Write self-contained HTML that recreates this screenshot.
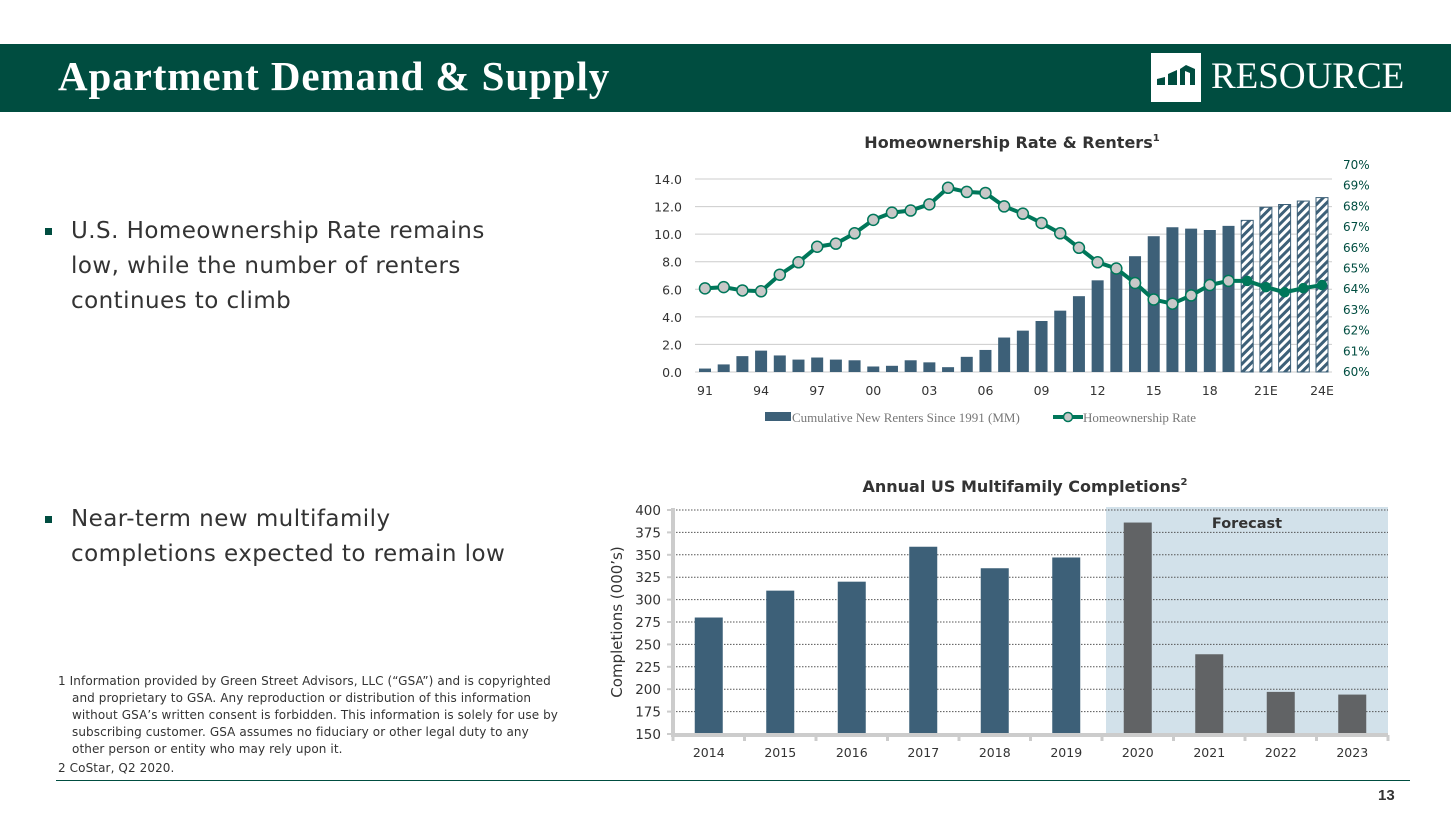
<!DOCTYPE html>
<html><head><meta charset="utf-8"><style>
body{margin:0;width:1451px;height:816px;background:#fff;position:relative;overflow:hidden;font-family:"DejaVu Sans","Liberation Sans",sans-serif}
.hdr{position:absolute;left:0;top:44px;width:1451px;height:68px;background:#004d40}
.title{position:absolute;left:58px;top:52px;font-family:"Liberation Serif",serif;font-weight:bold;font-size:41px;letter-spacing:0.9px;color:#fff}
.bul{position:absolute;left:45px;font-size:23px;letter-spacing:0.45px;color:#333;line-height:35px}
.bul span.sq{position:absolute;left:0;top:14px;width:7px;height:7px;background:#004d40}
.bul div{margin-left:26px}
.fn{position:absolute;left:58px;font-size:12px;letter-spacing:0.1px;color:#333;line-height:17px}
</style></head><body>
<div class="hdr"></div>
<div class="title">Apartment Demand &amp; Supply</div>
<div style="position:absolute;left:1151px;top:53px;width:50px;height:49px;background:#fff">
<svg width="50" height="49"><path d="M6 32 L6 26 L14 24 L14 32 Z M17 32 L17 21 L26 17 L26 32 Z M29 32 L29 16 L35 12 L44 16 L44 32 L39 32 L39 20 L34 18 L34 32 Z" fill="#004d40"/></svg></div>
<div style="position:absolute;left:1211px;top:55px;font-family:'Liberation Serif',serif;font-size:37px;color:#fff">RESOURCE</div>
<div class="bul" style="top:214px"><span class="sq"></span><div>U.S. Homeownership Rate remains<br>low, while the number of renters<br>continues to climb</div></div>
<div class="bul" style="top:502px"><span class="sq"></span><div>Near-term new multifamily<br>completions expected to remain low</div></div>
<div class="fn" style="top:673px;width:500px"><div style="padding-left:14px;text-indent:-14px">1 Information provided by Green Street Advisors, LLC (“GSA”) and is copyrighted and proprietary to GSA. Any reproduction or distribution of this information without GSA’s written consent is forbidden. This information is solely for use by subscribing customer. GSA assumes no fiduciary or other legal duty to any other person or entity who may rely upon it.</div><div style="margin-top:2px">2 CoStar, Q2 2020.</div></div>
<div style="position:absolute;left:56px;top:780px;width:1354px;height:1px;background:#004d40"></div>
<div style="position:absolute;left:1378px;top:787px;font-family:'Liberation Sans',sans-serif;font-weight:bold;font-size:15px;color:#333">13</div>
<svg id="c" width="1451" height="816" style="position:absolute;left:0;top:0">
<defs><pattern id="hatch" width="6" height="6" patternUnits="userSpaceOnUse" patternTransform="rotate(45)"><rect width="6" height="6" fill="#fff"/><rect width="3" height="6" fill="#3d6078"/></pattern></defs>
</svg>
<script>
const cats1=['91','92','93','94','95','96','97','98','99','00','01','02','03','04','05','06','07','08','09','10','11','12','13','14','15','16','17','18','19','20','21E','22E','23E','24E'];
const renters=[0.25,0.55,1.15,1.55,1.2,0.9,1.05,0.9,0.85,0.4,0.45,0.85,0.7,0.35,1.1,1.6,2.5,3.0,3.7,4.45,5.5,6.65,7.3,8.4,9.85,10.5,10.4,10.3,10.6,11.0,11.95,12.15,12.4,12.65];
const rate=[64.04,64.1,63.94,63.9,64.7,65.3,66.05,66.2,66.7,67.35,67.7,67.8,68.1,68.9,68.7,68.65,68.0,67.65,67.2,66.7,66.0,65.3,65.0,64.3,63.5,63.3,63.7,64.2,64.4,64.4,64.1,63.85,64.05,64.2];
const forecastStart=29;
const xLabels1=['91','94','97','00','03','06','09','12','15','18','21E','24E'];
const leftTicks=[0,2,4,6,8,10,12,14];
const rightTicks=[60,61,62,63,64,65,66,67,68,69,70];
const cats2=['2014','2015','2016','2017','2018','2019','2020','2021','2022','2023'];
const completions=[280,310,320,359,335,347,386,239,197,194];
const yTicks2=[150,175,200,225,250,275,300,325,350,375,400];
const fcStart2=6;
const svg=document.getElementById('c');const NS='http://www.w3.org/2000/svg';
function mk(t,a,p){const e=document.createElementNS(NS,t);for(const k in a)e.setAttribute(k,a[k]);(p||svg).appendChild(e);return e;}
function tx(s,a){const e=mk('text',a);e.textContent=s;return e;}
function titled(s,sup,a){const e=mk('text',a);e.appendChild(document.createTextNode(s));const t=mk('tspan',{'font-size':10,dy:-7},e);t.textContent=sup;return e;}
// chart 1
const x1=i=>705+i*(1322-705)/(cats1.length-1);
const yL=v=>372-v*(372-179)/14;
const yR=v=>372-(v-60)*20.7;
titled('Homeownership Rate & Renters','1',{x:1012,y:148,'text-anchor':'middle','font-size':16,'font-weight':'bold',fill:'#333'});
leftTicks.forEach(v=>{const l=mk('line',{x1:695,x2:1332,y1:yL(v),y2:yL(v),stroke:'#ccc','stroke-width':1});
const t=tx(v.toFixed(1),{x:682,y:yL(v)+5,'text-anchor':'end','font-size':12.5,fill:'#333'});});
rightTicks.forEach(v=>{const t=tx(v+'%',{x:1343,y:yR(v)+4,'font-size':12,fill:'#004d40'});});
renters.forEach((v,i)=>{const f=i>=forecastStart;const r=mk('rect',{x:x1(i)-6,y:yL(v),width:12,height:yL(0)-yL(v),fill:f?'url(#hatch)':'#3d6078',stroke:f?'#3d6078':'none','stroke-width':1});});
xLabels1.forEach(s=>{const i=cats1.indexOf(s);const t=tx(s,{x:x1(i),y:395,'text-anchor':'middle','font-size':12.5,fill:'#333'});});
const pl=mk('polyline',{points:rate.map((v,i)=>x1(i)+','+yR(v)).join(' '),fill:'none',stroke:'#00775a','stroke-width':4});

rate.forEach((v,i)=>{const f=i>=forecastStart;const c=mk('circle',{cx:x1(i),cy:yR(v),r:f?4.5:5.5,fill:f?'#00775a':'#c8c8c8',stroke:'#00775a','stroke-width':1.5});});
mk('rect',{x:765,y:412,width:26,height:9,fill:'#3d6078'});
tx('Cumulative New Renters Since 1991 (MM)',{x:792,y:422,'font-size':13,fill:'#777','font-family':'Liberation Serif,serif'});
mk('line',{x1:1053,x2:1083,y1:417,y2:417,stroke:'#00775a','stroke-width':4});
mk('circle',{cx:1068,cy:417,r:4.5,fill:'#c8c8c8',stroke:'#00775a','stroke-width':1.5});
tx('Homeownership Rate',{x:1083,y:422,'font-size':13,fill:'#777','font-family':'Liberation Serif,serif'});
// chart 2
const L2=673,R2=1388,step2=(R2-L2)/cats2.length;
const x2=i=>L2+step2*(i+0.5);
const y2=v=>734-(v-150)*(734-510)/250;
mk('rect',{x:L2+step2*fcStart2+4,y:507,width:R2-(L2+step2*fcStart2)-4,height:227,fill:'#d2e1ea'});
tx('Forecast',{x:1247,y:528,'text-anchor':'middle','font-size':14.5,'font-weight':'bold',fill:'#333'});
titled('Annual US Multifamily Completions','2',{x:1025,y:492,'text-anchor':'middle','font-size':16,'font-weight':'bold',fill:'#333'});
yTicks2.forEach(v=>{if(v>150){const l=mk('line',{x1:L2,x2:R2,y1:y2(v),y2:y2(v),stroke:'#555','stroke-width':1,'stroke-dasharray':'1.5,1.5'});}
mk('line',{x1:L2-6,x2:L2,y1:y2(v),y2:y2(v),stroke:'#ccc','stroke-width':2});
const t=tx(String(v),{x:661,y:y2(v)+5,'text-anchor':'end','font-size':13.5,fill:'#333'});});
completions.forEach((v,i)=>{const r=mk('rect',{x:x2(i)-14,y:y2(v),width:28,height:y2(150)-y2(v),fill:i>=fcStart2?'#616365':'#3d6078'});
const t=tx(cats2[i],{x:x2(i),y:757,'text-anchor':'middle','font-size':12.5,fill:'#333'});});
mk('line',{x1:L2,x2:L2,y1:508,y2:736,stroke:'#ccc','stroke-width':4});
mk('line',{x1:L2-2,x2:R2,y1:735,y2:735,stroke:'#ccc','stroke-width':4});
for(let i=0;i<=cats2.length;i++)mk('line',{x1:L2+step2*i,x2:L2+step2*i,y1:735,y2:741,stroke:'#ccc','stroke-width':3});
const yt=tx('Completions (000’s)',{x:0,y:0,'text-anchor':'middle','font-size':15,fill:'#333',transform:'translate(622,622) rotate(-90)'});
</script>
</body></html>
